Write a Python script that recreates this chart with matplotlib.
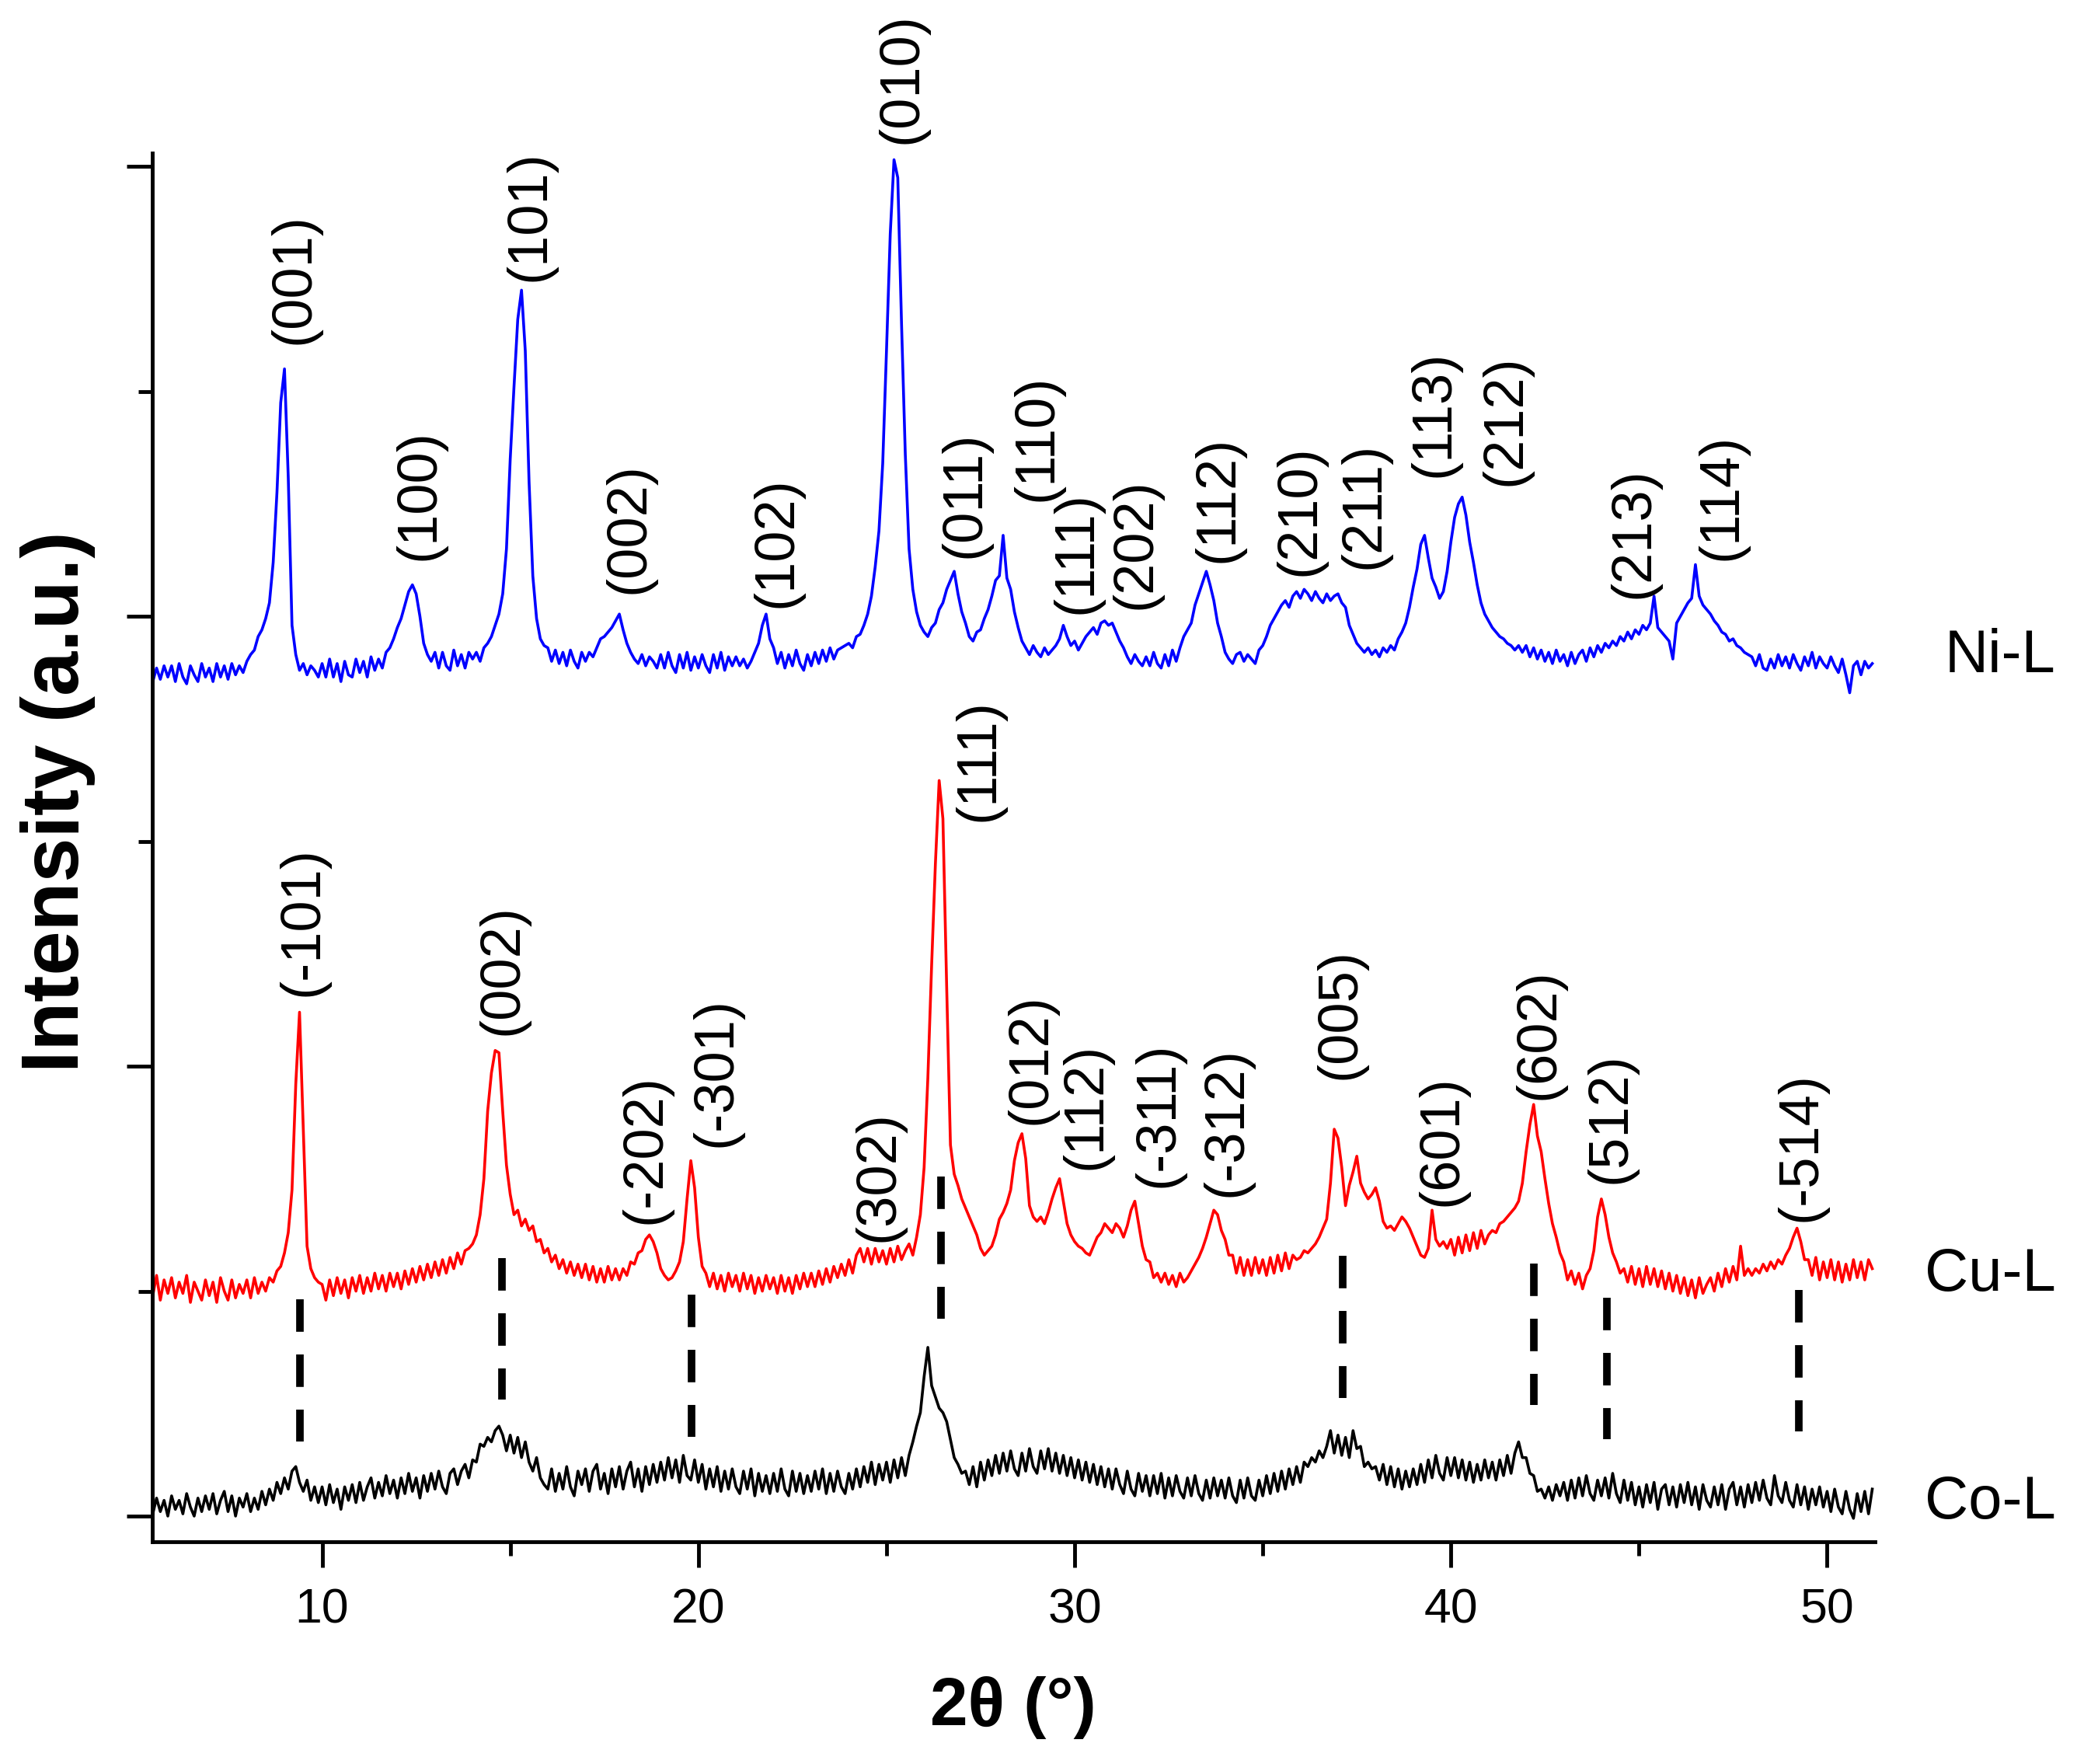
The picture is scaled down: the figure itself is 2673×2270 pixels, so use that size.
import numpy as np
import matplotlib
matplotlib.use("Agg")
import matplotlib.pyplot as plt

plt.rcParams['font.family'] = ['Liberation Sans', 'DejaVu Sans']

# 2-theta sampling grid (0.1 deg), 5.5 .. 51.2
two_theta = np.round(np.arange(55, 513) * 0.1, 1)

# Ni-L trace (offset intensity, a.u.), one row per degree
ni_l = [
    3.71, 3.77, 3.72, 3.78, 3.73,                                  # 5.5
    3.78, 3.71, 3.79, 3.73, 3.70, 3.78, 3.74, 3.71, 3.79, 3.73,    # 6
    3.77, 3.71, 3.79, 3.73, 3.78, 3.72, 3.79, 3.74, 3.78, 3.75,    # 7
    3.80, 3.83, 3.85, 3.91, 3.94, 3.99, 4.06, 4.24, 4.55, 4.95,    # 8
    5.10, 4.62, 3.96, 3.83, 3.76, 3.79, 3.74, 3.78, 3.76, 3.73,    # 9
    3.79, 3.73, 3.81, 3.73, 3.79, 3.71, 3.80, 3.74, 3.73, 3.81,    # 10
    3.75, 3.80, 3.73, 3.82, 3.76, 3.81, 3.77, 3.84, 3.86, 3.90,    # 11
    3.95, 3.99, 4.05, 4.11, 4.14, 4.10, 4.00, 3.88, 3.83, 3.80,    # 12
    3.84, 3.77, 3.84, 3.78, 3.76, 3.85, 3.78, 3.83, 3.77, 3.84,    # 13
    3.81, 3.84, 3.80, 3.86, 3.88, 3.91, 3.96, 4.01, 4.10, 4.30,    # 14
    4.70, 5.02, 5.32, 5.45, 5.18, 4.60, 4.18, 3.99, 3.90, 3.87,    # 15
    3.86, 3.80, 3.85, 3.79, 3.84, 3.78, 3.85, 3.80, 3.77, 3.84,    # 16
    3.80, 3.84, 3.82, 3.86, 3.90, 3.91, 3.93, 3.95, 3.98, 4.01,    # 17
    3.94, 3.88, 3.84, 3.81, 3.79, 3.83, 3.78, 3.82, 3.80, 3.77,    # 18
    3.83, 3.77, 3.84, 3.78, 3.75, 3.83, 3.77, 3.84, 3.76, 3.82,    # 19
    3.77, 3.83, 3.78, 3.75, 3.83, 3.77, 3.84, 3.76, 3.82, 3.78,    # 20
    3.82, 3.78, 3.81, 3.77, 3.80, 3.84, 3.88, 3.96, 4.01, 3.90,    # 21
    3.86, 3.79, 3.84, 3.77, 3.83, 3.78, 3.85, 3.79, 3.76, 3.83,    # 22
    3.78, 3.84, 3.79, 3.85, 3.80, 3.86, 3.81, 3.85, 3.86, 3.87,    # 23
    3.88, 3.86, 3.91, 3.92, 3.96, 4.01, 4.09, 4.22, 4.38, 4.68,    # 24
    5.18, 5.70, 6.03, 5.95, 5.30, 4.72, 4.30, 4.12, 4.02, 3.96,    # 25
    3.93, 3.91, 3.95, 3.97, 4.03, 4.06, 4.12, 4.16, 4.20, 4.10,    # 26
    4.02, 3.97, 3.91, 3.89, 3.93, 3.94, 3.99, 4.03, 4.09, 4.16,    # 27
    4.18, 4.36, 4.17, 4.12, 4.02, 3.95, 3.89, 3.86, 3.83, 3.87,    # 28
    3.84, 3.82, 3.86, 3.83, 3.85, 3.87, 3.90, 3.96, 3.91, 3.87,    # 29
    3.89, 3.85, 3.88, 3.91, 3.93, 3.95, 3.92, 3.97, 3.98, 3.96,    # 30
    3.97, 3.93, 3.89, 3.86, 3.82, 3.79, 3.83, 3.80, 3.78, 3.82,    # 31
    3.78, 3.84, 3.79, 3.77, 3.83, 3.78, 3.85, 3.80, 3.86, 3.91,    # 32
    3.94, 3.97, 4.05, 4.10, 4.15, 4.20, 4.14, 4.07, 3.97, 3.91,    # 33
    3.84, 3.81, 3.79, 3.83, 3.84, 3.80, 3.83, 3.81, 3.79, 3.85,    # 34
    3.87, 3.91, 3.96, 3.99, 4.02, 4.05, 4.07, 4.04, 4.09, 4.11,    # 35
    4.08, 4.12, 4.10, 4.07, 4.11, 4.08, 4.06, 4.10, 4.07, 4.09,    # 36
    4.10, 4.06, 4.04, 3.96, 3.92, 3.88, 3.86, 3.84, 3.86, 3.83,    # 37
    3.85, 3.82, 3.86, 3.84, 3.87, 3.85, 3.90, 3.93, 3.97, 4.04,    # 38
    4.13, 4.21, 4.32, 4.36, 4.26, 4.17, 4.13, 4.08, 4.11, 4.20,    # 39
    4.33, 4.44, 4.50, 4.53, 4.45, 4.33, 4.24, 4.14, 4.06, 4.01,    # 40
    3.98, 3.95, 3.93, 3.91, 3.90, 3.88, 3.87, 3.85, 3.87, 3.84,    # 41
    3.87, 3.82, 3.86, 3.81, 3.85, 3.80, 3.84, 3.79, 3.85, 3.80,    # 42
    3.83, 3.78, 3.84, 3.79, 3.83, 3.85, 3.80, 3.86, 3.82, 3.87,    # 43
    3.84, 3.88, 3.86, 3.89, 3.87, 3.91, 3.89, 3.93, 3.90, 3.94,    # 44
    3.92, 3.96, 3.94, 3.97, 4.09, 3.95, 3.93, 3.91, 3.89, 3.81,    # 45
    3.97, 4.00, 4.03, 4.06, 4.08, 4.23, 4.09, 4.05, 4.03, 4.01,    # 46
    3.98, 3.96, 3.93, 3.92, 3.89, 3.90, 3.87, 3.86, 3.84, 3.83,    # 47
    3.82, 3.78, 3.83, 3.77, 3.76, 3.81, 3.77, 3.83, 3.78, 3.82,    # 48
    3.77, 3.83, 3.79, 3.76, 3.82, 3.78, 3.84, 3.77, 3.82, 3.79,    # 49
    3.77, 3.82, 3.78, 3.75, 3.81, 3.74, 3.66, 3.78, 3.80, 3.74,    # 50
    3.80, 3.77, 3.79,                                              # 51
]

cu_l = [
    0.98, 1.07, 0.96, 1.05, 0.99,                                  # 5.5
    1.06, 0.97, 1.04, 0.99, 1.07, 0.95, 1.04, 1.00, 0.96, 1.05,    # 6
    0.98, 1.04, 0.95, 1.06, 1.00, 0.96, 1.05, 0.97, 1.03, 0.99,    # 7
    1.05, 0.97, 1.06, 0.99, 1.04, 1.00, 1.06, 1.04, 1.09, 1.11,    # 8
    1.17, 1.26, 1.45, 1.92, 2.24, 1.72, 1.20, 1.10, 1.06, 1.04,    # 9
    1.03, 0.96, 1.05, 0.98, 1.06, 0.99, 1.05, 0.97, 1.06, 1.00,    # 10
    1.07, 0.99, 1.06, 1.00, 1.08, 1.01, 1.07, 1.00, 1.08, 1.02,    # 11
    1.08, 1.01, 1.09, 1.03, 1.10, 1.04, 1.11, 1.05, 1.12, 1.06,    # 12
    1.13, 1.07, 1.14, 1.08, 1.15, 1.10, 1.17, 1.12, 1.18, 1.19,    # 13
    1.21, 1.25, 1.34, 1.50, 1.80, 1.97, 2.07, 2.06, 1.80, 1.56,    # 14
    1.43, 1.34, 1.36, 1.29, 1.32, 1.27, 1.29, 1.22, 1.23, 1.17,    # 15
    1.19, 1.13, 1.16, 1.10, 1.14, 1.08, 1.13, 1.07, 1.12, 1.06,    # 16
    1.12, 1.05, 1.11, 1.04, 1.10, 1.04, 1.11, 1.05, 1.10, 1.05,    # 17
    1.10, 1.07, 1.13, 1.12, 1.17, 1.18, 1.23, 1.25, 1.22, 1.17,    # 18
    1.10, 1.07, 1.05, 1.06, 1.09, 1.13, 1.22, 1.41, 1.58, 1.46,    # 19
    1.24, 1.11, 1.08, 1.02, 1.08, 1.01, 1.07, 1.00, 1.08, 1.02,    # 20
    1.07, 1.00, 1.08, 1.01, 1.07, 0.99, 1.06, 1.00, 1.07, 1.01,    # 21
    1.06, 0.99, 1.07, 1.00, 1.06, 0.99, 1.07, 1.01, 1.08, 1.02,    # 22
    1.08, 1.02, 1.09, 1.03, 1.10, 1.04, 1.11, 1.06, 1.12, 1.07,    # 23
    1.14, 1.08, 1.16, 1.19, 1.13, 1.19, 1.12, 1.19, 1.13, 1.18,    # 24
    1.12, 1.19, 1.13, 1.20, 1.14, 1.18, 1.21, 1.16, 1.24, 1.34,    # 25
    1.55, 1.95, 2.45, 2.90, 3.27, 3.10, 2.35, 1.65, 1.52, 1.47,    # 26
    1.41, 1.37, 1.33, 1.29, 1.25, 1.19, 1.16, 1.18, 1.20, 1.25,    # 27
    1.32, 1.35, 1.39, 1.45, 1.58, 1.66, 1.70, 1.59, 1.38, 1.33,    # 28
    1.31, 1.33, 1.30, 1.35, 1.41, 1.46, 1.50, 1.40, 1.30, 1.25,    # 29
    1.22, 1.20, 1.19, 1.17, 1.16, 1.20, 1.24, 1.26, 1.30, 1.28,    # 30
    1.26, 1.30, 1.28, 1.24, 1.29, 1.36, 1.40, 1.30, 1.20, 1.14,    # 31
    1.13, 1.06, 1.08, 1.04, 1.08, 1.03, 1.07, 1.02, 1.08, 1.04,    # 32
    1.06, 1.09, 1.12, 1.15, 1.19, 1.24, 1.30, 1.36, 1.34, 1.27,    # 33
    1.23, 1.16, 1.16, 1.08, 1.15, 1.07, 1.14, 1.07, 1.15, 1.08,    # 34
    1.14, 1.07, 1.15, 1.08, 1.16, 1.09, 1.17, 1.10, 1.16, 1.14,    # 35
    1.15, 1.18, 1.17, 1.19, 1.21, 1.24, 1.28, 1.32, 1.48, 1.72,    # 36
    1.68, 1.55, 1.38, 1.47, 1.53, 1.60, 1.48, 1.44, 1.41, 1.43,    # 37
    1.46, 1.40, 1.31, 1.28, 1.29, 1.27, 1.30, 1.33, 1.31, 1.28,    # 38
    1.24, 1.20, 1.16, 1.15, 1.19, 1.36, 1.23, 1.20, 1.22, 1.19,    # 39
    1.23, 1.16, 1.24, 1.17, 1.25, 1.18, 1.26, 1.19, 1.27, 1.21,    # 40
    1.25, 1.27, 1.26, 1.30, 1.31, 1.33, 1.35, 1.37, 1.40, 1.48,    # 41
    1.62, 1.74, 1.83, 1.69, 1.62, 1.50, 1.39, 1.30, 1.24, 1.17,    # 42
    1.13, 1.05, 1.09, 1.03, 1.08, 1.01, 1.07, 1.10, 1.18, 1.33,    # 43
    1.41, 1.34, 1.24, 1.17, 1.13, 1.08, 1.10, 1.04, 1.11, 1.03,    # 44
    1.10, 1.02, 1.11, 1.03, 1.10, 1.02, 1.09, 1.01, 1.08, 1.00,    # 45
    1.07, 0.99, 1.06, 0.98, 1.05, 0.97, 1.06, 0.99, 1.03, 1.06,    # 46
    1.00, 1.08, 1.02, 1.10, 1.04, 1.11, 1.05, 1.20, 1.07, 1.10,    # 47
    1.07, 1.10, 1.08, 1.12, 1.09, 1.13, 1.10, 1.14, 1.12, 1.16,    # 48
    1.19, 1.24, 1.28, 1.22, 1.14, 1.14, 1.07, 1.15, 1.05, 1.13,    # 49
    1.06, 1.14, 1.05, 1.13, 1.04, 1.12, 1.05, 1.14, 1.06, 1.13,    # 50
    1.05, 1.14, 1.10,                                              # 51
]

co_l = [
    0.01, 0.08, 0.02, 0.07, 0.00,                                  # 5.5
    0.09, 0.03, 0.07, 0.01, 0.10, 0.04, 0.00, 0.08, 0.02, 0.09,    # 6
    0.03, 0.10, 0.01, 0.07, 0.11, 0.02, 0.09, 0.00, 0.08, 0.04,    # 7
    0.10, 0.02, 0.08, 0.03, 0.11, 0.05, 0.12, 0.07, 0.15, 0.10,    # 8
    0.17, 0.12, 0.20, 0.22, 0.15, 0.11, 0.16, 0.07, 0.13, 0.06,    # 9
    0.13, 0.05, 0.14, 0.06, 0.12, 0.03, 0.13, 0.07, 0.14, 0.06,    # 10
    0.15, 0.07, 0.13, 0.17, 0.08, 0.15, 0.09, 0.18, 0.10, 0.16,    # 11
    0.08, 0.17, 0.10, 0.19, 0.11, 0.17, 0.08, 0.18, 0.11, 0.19,    # 12
    0.12, 0.20, 0.13, 0.10, 0.19, 0.21, 0.14, 0.20, 0.23, 0.17,    # 13
    0.25, 0.24, 0.32, 0.31, 0.35, 0.33, 0.38, 0.40, 0.36, 0.29,    # 14
    0.36, 0.28, 0.35, 0.26, 0.33, 0.24, 0.20, 0.26, 0.17, 0.14,    # 15
    0.12, 0.21, 0.11, 0.19, 0.12, 0.22, 0.13, 0.09, 0.20, 0.14,    # 16
    0.21, 0.11, 0.20, 0.23, 0.12, 0.19, 0.10, 0.21, 0.13, 0.22,    # 17
    0.12, 0.20, 0.24, 0.13, 0.21, 0.11, 0.22, 0.14, 0.23, 0.15,    # 18
    0.24, 0.16, 0.26, 0.17, 0.25, 0.15, 0.27, 0.18, 0.16, 0.25,    # 19
    0.15, 0.23, 0.12, 0.21, 0.13, 0.22, 0.11, 0.20, 0.12, 0.21,    # 20
    0.13, 0.10, 0.20, 0.12, 0.21, 0.09, 0.19, 0.11, 0.18, 0.10,    # 21
    0.19, 0.11, 0.21, 0.12, 0.09, 0.20, 0.11, 0.19, 0.10, 0.18,    # 22
    0.11, 0.20, 0.12, 0.21, 0.10, 0.19, 0.11, 0.20, 0.13, 0.10,    # 23
    0.19, 0.12, 0.21, 0.13, 0.22, 0.15, 0.24, 0.14, 0.23, 0.16,    # 24
    0.24, 0.15, 0.25, 0.17, 0.26, 0.18, 0.27, 0.33, 0.40, 0.46,    # 25
    0.62, 0.75, 0.58, 0.53, 0.48, 0.46, 0.42, 0.34, 0.26, 0.23,    # 26
    0.19, 0.20, 0.14, 0.22, 0.13, 0.24, 0.16, 0.25, 0.18, 0.27,    # 27
    0.19, 0.28, 0.20, 0.29, 0.21, 0.18, 0.28, 0.20, 0.30, 0.22,    # 28
    0.19, 0.29, 0.21, 0.30, 0.20, 0.28, 0.19, 0.27, 0.18, 0.26,    # 29
    0.17, 0.25, 0.16, 0.24, 0.15, 0.23, 0.14, 0.22, 0.13, 0.21,    # 30
    0.12, 0.21, 0.14, 0.10, 0.20, 0.12, 0.09, 0.19, 0.11, 0.18,    # 31
    0.09, 0.18, 0.10, 0.19, 0.08, 0.17, 0.09, 0.18, 0.11, 0.08,    # 32
    0.17, 0.09, 0.18, 0.10, 0.07, 0.16, 0.08, 0.17, 0.09, 0.16,    # 33
    0.08, 0.17, 0.09, 0.06, 0.16, 0.08, 0.17, 0.09, 0.07, 0.16,    # 34
    0.09, 0.18, 0.10, 0.19, 0.11, 0.20, 0.12, 0.21, 0.14, 0.22,    # 35
    0.15, 0.24, 0.22, 0.26, 0.24, 0.29, 0.26, 0.31, 0.38, 0.28,    # 36
    0.36, 0.27, 0.35, 0.26, 0.38, 0.30, 0.31, 0.22, 0.24, 0.21,    # 37
    0.22, 0.16, 0.23, 0.14, 0.22, 0.13, 0.21, 0.12, 0.20, 0.13,    # 38
    0.21, 0.14, 0.23, 0.15, 0.25, 0.17, 0.27, 0.19, 0.16, 0.26,    # 39
    0.18, 0.26, 0.17, 0.25, 0.16, 0.24, 0.15, 0.23, 0.16, 0.25,    # 40
    0.17, 0.24, 0.16, 0.25, 0.18, 0.27, 0.19, 0.28, 0.33, 0.26,    # 41
    0.26, 0.19, 0.18, 0.11, 0.12, 0.08, 0.13, 0.07, 0.14, 0.09,    # 42
    0.15, 0.07, 0.16, 0.08, 0.17, 0.09, 0.18, 0.10, 0.07, 0.16,    # 43
    0.09, 0.17, 0.08, 0.19, 0.10, 0.06, 0.16, 0.07, 0.15, 0.05,    # 44
    0.13, 0.04, 0.14, 0.06, 0.15, 0.03, 0.12, 0.14, 0.05, 0.13,    # 45
    0.04, 0.14, 0.06, 0.15, 0.05, 0.13, 0.03, 0.14, 0.07, 0.04,    # 46
    0.13, 0.05, 0.14, 0.03, 0.12, 0.15, 0.05, 0.13, 0.04, 0.14,    # 47
    0.06, 0.15, 0.07, 0.16, 0.08, 0.05, 0.18, 0.09, 0.06, 0.15,    # 48
    0.07, 0.04, 0.14, 0.05, 0.13, 0.03, 0.12, 0.05, 0.13, 0.04,    # 49
    0.11, 0.02, 0.12, 0.04, 0.01, 0.11, 0.03, -0.01, 0.10, 0.02,   # 50
    0.11, 0.01, 0.12,                                              # 51
]

# reflection labels: (text, 2theta of label centre, y of label foot)
ni_peaks = ['(001)', '(100)', '(101)', '(002)', '(102)', '(010)', '(011)',
            '(110)', '(111)', '(202)', '(112)', '(210)', '(211)', '(113)',
            '(212)', '(213)', '(114)']
ni_peak_x = [9.27, 12.60, 15.52, 18.17, 22.10, 25.42, 27.09, 29.01, 30.06,
             31.63, 33.82, 35.98, 37.71, 39.57, 41.47, 44.86, 47.20]
ni_peak_y = [5.21, 4.25, 5.49, 4.10, 4.04, 6.10, 4.26, 4.51, 4.01, 4.03,
             4.24, 4.18, 4.21, 4.62, 4.58, 4.08, 4.25]

cu_peaks = ['(-101)', '(002)', '(-202)', '(-301)', '(302)', '(111)', '(012)',
            '(112)', '(-311)', '(-312)', '(005)', '(601)', '(602)', '(512)',
            '(-514)']
cu_peak_x = [9.49, 14.80, 18.61, 20.48, 24.80, 27.47, 28.85, 30.30, 32.23,
             34.04, 37.07, 39.77, 42.34, 44.24, 49.30]
cu_peak_y = [2.31, 2.14, 1.30, 1.64, 1.22, 3.09, 1.74, 1.54, 1.46, 1.42,
             1.94, 1.38, 1.85, 1.48, 1.31]

# dashed guide lines linking Cu-L and Co-L reflections
guide_x = [9.42, 14.77, 19.82, 26.45, 37.12, 42.20, 44.15, 49.24]
guide_top = [0.963, 1.147, 0.985, 1.508, 1.156, 1.123, 0.972, 1.006]
guide_bottom = [0.330, 0.517, 0.352, 0.879, 0.525, 0.494, 0.343, 0.377]

samples = ['Ni-L', 'Cu-L', 'Co-L']
sample_label_y = [3.752, 1.003, -0.012]


def main():
    fig = plt.figure(figsize=(26.73, 22.70), dpi=100)
    ax = fig.add_axes([0.0732, 0.126, 0.8295, 0.7873])

    ax.plot(two_theta, ni_l, color='#0000ff', lw=2.6)
    ax.plot(two_theta, cu_l, color='#ff0000', lw=2.6)
    ax.plot(two_theta, co_l, color='black', lw=2.6)

    for gx, gt, gb in zip(guide_x, guide_top, guide_bottom):
        ax.plot([gx, gx], [gt, gb], color='black', lw=7,
                linestyle=(0, (4.3, 3.0)), dash_capstyle='butt')

    for lab, px, py in zip(ni_peaks, ni_peak_x, ni_peak_y):
        ax.text(px, py, lab, rotation=90, ha='center', va='bottom', fontsize=52)
    for lab, px, py in zip(cu_peaks, cu_peak_x, cu_peak_y):
        ax.text(px, py, lab, rotation=90, ha='center', va='bottom', fontsize=52)

    for name, ly in zip(samples, sample_label_y):
        ax.text(56.08, ly, name, ha='right', va='baseline', fontsize=56,
                clip_on=False)

    ax.set_xlim(5.48, 51.27)
    ax.set_ylim(-0.114, 6.06)

    ax.spines['top'].set_visible(False)
    ax.spines['right'].set_visible(False)
    for side in ['left', 'bottom']:
        ax.spines[side].set_linewidth(3.5)

    ax.set_xticks([10, 20, 30, 40, 50])
    ax.set_xticks([15, 25, 35, 45], minor=True)
    ax.set_yticks([0, 2, 4, 6])
    ax.set_yticks([1, 3, 5], minor=True)
    ax.set_yticklabels([])
    ax.tick_params(which='major', direction='out', length=24, width=3.5,
                   labelsize=45, pad=18)
    ax.tick_params(which='minor', direction='out', length=13, width=3.5)

    ax.set_xlabel('2θ (°)', fontsize=63, fontweight='bold', labelpad=40)
    ax.text(-0.0548, 0.533, 'Intensity (a.u.)', transform=ax.transAxes,
            rotation=90, ha='center', va='center', fontsize=74,
            fontweight='bold')

    fig.savefig('out.png', dpi=100)


if __name__ == "__main__":
    main()
